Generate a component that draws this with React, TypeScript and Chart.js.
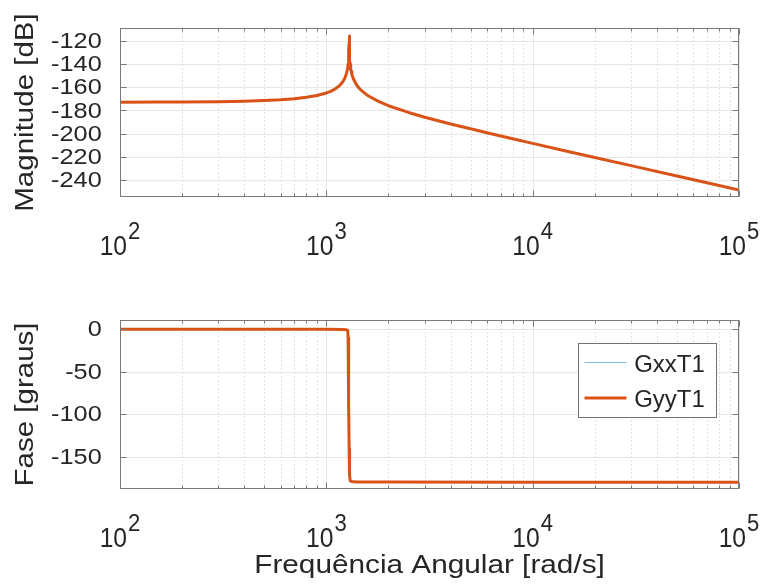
import React, { useEffect, useRef } from 'react';
import { Chart, registerables } from 'chart.js';

Chart.register(...registerables);

// ---------- data ----------
const magFreq = [
  100, 150, 200, 300, 400, 500, 600, 700, 800, 900, 1000, 1050, 1100, 1150, 1200,
  1230, 1250, 1265, 1270, 1275, 1278, 1282, 1284, 1286, 1288, 1290, 1292, 1294, 1296,
  1298, 1300, 1305, 1310, 1315, 1320, 1330, 1350, 1400, 1450, 1500, 1600, 1800, 2000,
  2500, 3000, 4000, 5000, 6000, 7000, 8000, 10000, 15000, 20000, 30000, 50000, 70000,
  100000,
];
const magGyyT1 = [
  -172.95, -172.9, -172.8, -172.5, -172.1, -171.6, -170.9, -170.0, -168.8, -167.2,
  -165.0, -163.6, -161.7, -159.3, -155.6, -152.2, -148.7, -144.7, -142.8, -140.3,
  -138.4, -134.9, -132.3, -128.8, -122.9, -116.0, -122.8, -128.8, -132.4, -134.9,
  -136.8, -140.4, -142.9, -144.8, -146.5, -149.0, -152.6, -158.0, -161.4, -163.9,
  -167.6, -172.5, -176.0, -181.8, -185.9, -191.7, -195.9, -199.3, -202.1, -204.5,
  -208.4, -215.6, -220.6, -227.6, -236.5, -242.4, -248.6,
];
const magGxxT1 = [...magGyyT1];

const phaseFreq = [
  100, 500, 1000, 1200, 1250, 1262, 1270, 1275, 1280, 1285, 1290, 1296, 1305,
  1320, 1400, 2000, 10000, 100000,
];
const phaseGyyT1 = [
  0, -0.1, -0.2, -0.4, -0.7, -1.2, -2.5, -10, -40, -90, -140, -172, -178,
  -179.3, -179.7, -179.9, -180, -180,
];
const phaseGxxT1 = [...phaseGyyT1];

const seriesNames = ['GxxT1', 'GyyT1'];
const seriesColors = ['#7db9e8', '#d95319'];
const seriesWidths = [1, 3];

const magTicks = [-240, -220, -200, -180, -160, -140, -120];
const phaseTicks = [-150, -100, -50, 0];
const decadeValues = [100, 1000, 10000, 100000];
const decadeExponents = ['2', '3', '4', '5'];
const minorMultipliers = [2, 3, 4, 5, 6, 7, 8, 9];

const magRange = [-254.6, -109.1];
const phaseRange = [-188, 10.8];

const FONT = '"Liberation Sans", Arial, Helvetica, sans-serif';
const TEXT = '#262626';
const AXIS = '#7a7a7a';

function drawText(
  ctx: CanvasRenderingContext2D,
  s: string,
  x: number,
  y: number,
  size: number,
  sx: number,
  align: CanvasTextAlign,
  rotate = false,
) {
  ctx.save();
  ctx.translate(x, y);
  if (rotate) ctx.rotate(-Math.PI / 2);
  ctx.scale(sx, 1);
  ctx.font = `${size}px ${FONT}`;
  ctx.fillStyle = TEXT;
  ctx.textAlign = align;
  ctx.textBaseline = 'alphabetic';
  ctx.fillText(s, 0, 0);
  ctx.restore();
}

function textWidth(ctx: CanvasRenderingContext2D, s: string, size: number) {
  ctx.save();
  ctx.font = `${size}px ${FONT}`;
  const w = ctx.measureText(s).width;
  ctx.restore();
  return w;
}

function line(ctx: CanvasRenderingContext2D, x1: number, y1: number, x2: number, y2: number) {
  ctx.beginPath();
  ctx.moveTo(x1, y1);
  ctx.lineTo(x2, y2);
  ctx.stroke();
}

type PlotCfg = {
  yTicks: number[];
  yTitle: string;
  xTitle?: string;
  legend?: boolean;
};

function makePlugin(cfg: PlotCfg) {
  return {
    id: 'bodeDecor',
    beforeDatasetsDraw(chart: any) {
      const { ctx, chartArea: a, scales } = chart;
      const x = scales.x;
      const y = scales.y;
      ctx.save();
      ctx.lineWidth = 1;
      // minor vertical grid (dotted)
      ctx.strokeStyle = '#e2e2e2';
      ctx.setLineDash([2, 2]);
      for (let i = 0; i < decadeValues.length - 1; i++) {
        for (const m of minorMultipliers) {
          const px = Math.round(x.getPixelForValue(decadeValues[i] * m)) + 0.5;
          line(ctx, px, a.top, px, a.bottom);
        }
      }
      ctx.setLineDash([]);
      // major grid
      ctx.strokeStyle = '#e6e6e6';
      for (const v of decadeValues) {
        const px = Math.round(x.getPixelForValue(v)) + 0.5;
        line(ctx, px, a.top, px, a.bottom);
      }
      for (const t of cfg.yTicks) {
        const py = Math.round(y.getPixelForValue(t)) + 0.5;
        line(ctx, a.left, py, a.right, py);
      }
      ctx.restore();
    },
    afterDatasetsDraw(chart: any) {
      const { ctx, chartArea: a, scales } = chart;
      const x = scales.x;
      const y = scales.y;
      const L = Math.round(a.left) + 0.5;
      const R = Math.round(a.right) - 0.5;
      const T = Math.round(a.top) + 0.5;
      const B = Math.round(a.bottom) - 0.5;
      ctx.save();
      ctx.lineWidth = 1;
      ctx.strokeStyle = AXIS;
      ctx.strokeRect(L, T, R - L, B - T);
      // y ticks (inward, both sides)
      for (const t of cfg.yTicks) {
        const py = Math.round(y.getPixelForValue(t)) + 0.5;
        line(ctx, L, py, L + 6, py);
        line(ctx, R, py, R - 6, py);
      }
      // x ticks (inward, top and bottom)
      for (const v of decadeValues) {
        const px = Math.round(x.getPixelForValue(v)) + 0.5;
        line(ctx, px, B, px, B - 6);
        line(ctx, px, T, px, T + 6);
      }
      for (let i = 0; i < decadeValues.length - 1; i++) {
        for (const m of minorMultipliers) {
          const px = Math.round(x.getPixelForValue(decadeValues[i] * m)) + 0.5;
          line(ctx, px, B, px, B - 3);
          line(ctx, px, T, px, T + 3);
        }
      }
      ctx.restore();

      // y tick labels
      for (const t of cfg.yTicks) {
        const py = y.getPixelForValue(t);
        drawText(ctx, String(t), a.left - 18.3, py + 7.3, 22, 1.15, 'right');
      }
      // x tick labels 10^n
      decadeValues.forEach((v, i) => {
        const px = x.getPixelForValue(v);
        const sBase = 0.88;
        const sExp = 0.92;
        const wb = textWidth(ctx, '10', 28) * sBase;
        const we = textWidth(ctx, decadeExponents[i], 24) * sExp;
        const start = px - (wb + 1 + we) / 2;
        drawText(ctx, '10', start, a.bottom + 58.3, 28, sBase, 'left');
        drawText(ctx, decadeExponents[i], start + wb + 1, a.bottom + 41.5, 24, sExp, 'left');
      });
      // y title
      drawText(ctx, cfg.yTitle, 33.3, (a.top + a.bottom) / 2, 25, 1.18, 'center', true);
      // x title
      if (cfg.xTitle) {
        drawText(ctx, cfg.xTitle, (a.left + a.right) / 2, a.bottom + 84.3, 25, 1.19, 'center');
      }
      // legend
      if (cfg.legend) {
        const bl = Math.round(a.right - 160.7) + 0.5;
        const br = Math.round(a.right - 23) + 0.5;
        const bt = Math.round(a.top + 22.7) + 0.5;
        const bb = Math.round(a.top + 97.3) + 0.5;
        ctx.save();
        ctx.fillStyle = '#ffffff';
        ctx.fillRect(bl, bt, br - bl, bb - bt);
        ctx.strokeStyle = '#737373';
        ctx.lineWidth = 1;
        ctx.strokeRect(bl, bt, br - bl, bb - bt);
        const rows = [Math.round(a.top + 41.7) + 0.5, Math.round(a.top + 78.3)];
        seriesNames.forEach((name, i) => {
          ctx.strokeStyle = seriesColors[i];
          ctx.lineWidth = seriesWidths[i];
          line(ctx, bl + 6, rows[i], bl + 48, rows[i]);
          drawText(ctx, name, bl + 55.7, rows[i] + 9.3, 24, 1.0, 'left');
        });
        ctx.restore();
      }
    },
  };
}

function buildDatasets(freq: number[], series: number[][]) {
  return series.map((vals, i) => ({
    label: seriesNames[i],
    data: freq.map((f, k) => ({ x: f, y: vals[k] })),
    borderColor: seriesColors[i],
    backgroundColor: seriesColors[i],
    borderWidth: seriesWidths[i],
    borderJoinStyle: 'round' as const,
    pointRadius: 0,
    tension: 0,
    fill: false,
    order: i === 1 ? 0 : 1,
  }));
}

function makeConfig(
  freq: number[],
  series: number[][],
  range: number[],
  cfg: PlotCfg,
  padBottom: number,
): any {
  return {
    type: 'line',
    data: { datasets: buildDatasets(freq, series) },
    options: {
      animation: false,
      responsive: false,
      maintainAspectRatio: false,
      devicePixelRatio: 1,
      layout: { padding: { left: 120, right: 25, top: 28, bottom: padBottom } },
      plugins: { legend: { display: false }, tooltip: { enabled: false } },
      events: [],
      scales: {
        x: { type: 'logarithmic', min: decadeValues[0], max: decadeValues[decadeValues.length - 1], display: false },
        y: { type: 'linear', min: range[0], max: range[1], display: false },
      },
    },
    plugins: [makePlugin(cfg)],
  };
}

export default function App() {
  const topRef = useRef<HTMLCanvasElement>(null);
  const botRef = useRef<HTMLCanvasElement>(null);

  useEffect(() => {
    const c1 = new Chart(
      topRef.current as HTMLCanvasElement,
      makeConfig(magFreq, [magGxxT1, magGyyT1], magRange, { yTicks: magTicks, yTitle: 'Magnitude [dB]' }, 95),
    );
    const c2 = new Chart(
      botRef.current as HTMLCanvasElement,
      makeConfig(
        phaseFreq,
        [phaseGxxT1, phaseGyyT1],
        phaseRange,
        { yTicks: phaseTicks, yTitle: 'Fase [graus]', xTitle: 'Frequência Angular [rad/s]', legend: true },
        95,
      ),
    );
    return () => {
      c1.destroy();
      c2.destroy();
    };
  }, []);

  return (
    <div style={{ position: 'fixed', left: 0, top: 0, width: 764, height: 584, background: '#ffffff' }}>
      <canvas ref={topRef} width={764} height={292} style={{ display: 'block', width: 764, height: 292 }} />
      <canvas ref={botRef} width={764} height={292} style={{ display: 'block', width: 764, height: 292 }} />
    </div>
  );
}
